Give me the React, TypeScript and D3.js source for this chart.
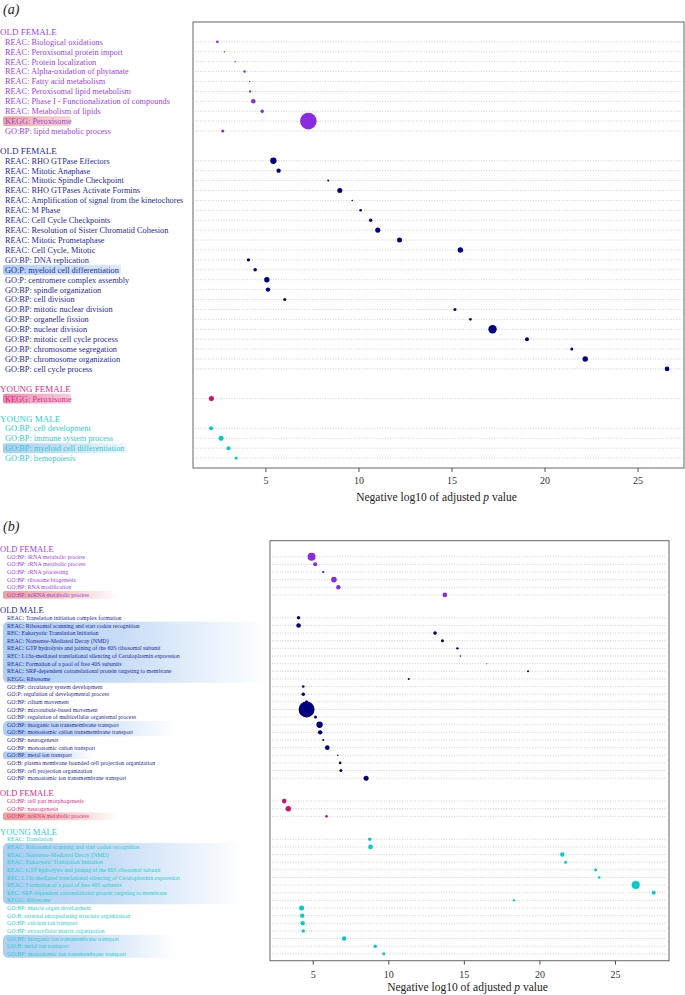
import React, { useEffect, useRef } from "react";
import * as d3 from "d3";

// ---- panel (a) ----
const aOldFemaleTerms = [
  "REAC: Biological oxidations",
  "REAC: Peroxisomal protein import",
  "REAC: Protein localization",
  "REAC: Alpha-oxidation of phytanate",
  "REAC: Fatty acid metabolism",
  "REAC: Peroxisomal lipid metabolism",
  "REAC: Phase I - Functionalization of compounds",
  "REAC: Metabolism of lipids",
  "KEGG: Peroxisome",
  "GO:BP: lipid metabolic process",
];
const aOldFemaleScore = [2.39, 2.77, 3.35, 3.85, 4.12, 4.15, 4.32, 4.8, 7.28, 2.68];
const aOldFemaleSize = [1.7, 0.6, 0.5, 1.4, 0.6, 1.4, 4.8, 2.9, 69, 2.3];

const aOldMaleTerms = [
  "REAC: RHO GTPase Effectors",
  "REAC: Mitotic Anaphase",
  "REAC: Mitotic Spindle Checkpoint",
  "REAC: RHO GTPases Activate Formins",
  "REAC: Amplification of signal from the kinetochores",
  "REAC: M Phase",
  "REAC: Cell Cycle Checkpoints",
  "REAC: Resolution of Sister Chromatid Cohesion",
  "REAC: Mitotic Prometaphase",
  "REAC: Cell Cycle, Mitotic",
  "GO:BP: DNA replication",
  "GO:P: myeloid cell differentiation",
  "GO:P: centromere complex assembly",
  "GO:BP: spindle organization",
  "GO:BP: cell division",
  "GO:BP: mitotic nuclear division",
  "GO:BP: organelle fission",
  "GO:BP: nuclear division",
  "GO:BP: mitotic cell cycle process",
  "GO:BP: chromosome segregation",
  "GO:BP: chromosome organization",
  "GO:BP: cell cycle process",
];
const aOldMaleScore = [
  5.4, 5.68, 8.35, 8.97, 9.64, 10.09, 10.63, 11.01, 12.18, 15.45, 4.06, 4.42,
  5.05, 5.11, 6.01, 15.16, 15.99, 17.18, 19.03, 21.44, 22.16, 26.56,
];
const aOldMaleSize = [
  10, 4.8, 1, 6.3, 0.6, 1.7, 2.9, 6.3, 6.3, 7.3, 2.9, 3.2, 7.3, 4.8, 2.3, 2.3,
  1.7, 17.6, 4, 2.3, 7.3, 5.3,
];

const aYoungFemaleTerms = ["KEGG: Peroxisome"];
const aYoungFemaleScore = [2.07];
const aYoungFemaleSize = [6.3];

const aYoungMaleTerms = [
  "GO:BP: cell development",
  "GO:BP: immune system process",
  "GO:BP: myeloid cell differentiation",
  "GO:BP: hemopoiesis",
];
const aYoungMaleScore = [2.05, 2.59, 2.99, 3.4];
const aYoungMaleSize = [4, 6.3, 4, 2.3];

// ---- panel (b) ----
const bOldFemaleTerms = [
  "GO:BP: tRNA metabolic process",
  "GO:BP: rRNA metabolic process",
  "GO:BP: rRNA processing",
  "GO:BP: ribosome biogenesis",
  "GO:BP: RNA modification",
  "GO:BP: ncRNA metabolic process",
];
const bOldFemaleScore = [4.89, 5.13, 5.66, 6.37, 6.66, 13.71];
const bOldFemaleSize = [16, 4, 1.4, 7.8, 4.8, 5.3];

const bOldMaleTerms = [
  "REAC: Translation initiation complex formation",
  "REAC: Ribosomal scanning and start codon recognition",
  "REC: Eukaryotic Translation Initiation",
  "REAC: Nonsense-Mediated Decay (NMD)",
  "REAC: GTP hydrolysis and joining of the 60S ribosomal subunit",
  "REC: L13a-mediated translational silencing of Ceruloplasmin expression",
  "REAC: Formation of a pool of free 40S subunits",
  "REAC: SRP-dependent cotranslational protein targeting to membrane",
  "KEGG: Ribosome",
  "GO:BP: circulatory system development",
  "GO:P: regulation of developmental process",
  "GO:BP: cilium movement",
  "GO:BP: microtubule-based movement",
  "GO:BP: regulation of multicellular organismal process",
  "GO:BP: inorganic ion transmembrane transport",
  "GO:BP: monoatomic cation transmembrane transport",
  "GO:BP: neurogenesis",
  "GO:BP: monoatomic cation transport",
  "GO:BP: metal ion transport",
  "GO:B: plasma membrane bounded cell projection organization",
  "GO:BP: cell projection organization",
  "GO:BP: monoatomic ion transmembrane transport",
];
const bOldMaleScore = [
  4.03, 4.03, 13.06, 13.55, 14.54, 14.74, 16.48, 19.21, 11.32, 4.34, 4.34, 4.56,
  4.56, 5.15, 5.42, 5.46, 5.66, 5.93, 6.63, 6.78, 6.83, 8.5,
];
const bOldMaleSize = [
  3.2, 5.3, 3.2, 2.3, 1.4, 0.5, 0.25, 1, 1, 1.7, 3.2, 2.3, 64, 2.3, 10, 4.8, 1,
  5.3, 0.5, 1.7, 2.3, 6.3,
];

const bOldFemale2Terms = [
  "GO:BP: cell part morphogenesis",
  "GO:BP: neurogenesis",
  "GO:BP: ncRNA metabolic process",
];
const bOldFemale2Score = [3.08, 3.35, 5.88];
const bOldFemale2Size = [5.3, 7.3, 1.7];

const bYoungMaleTerms = [
  "REAC: Translation",
  "REAC: Ribosomal scanning and start codon recognition",
  "REAC: Nonsense-Mediated Decay (NMD)",
  "REAC: Eukaryotic Translation Initiation",
  "REAC: GTP hydrolysis and joining of the 60S ribosomal subunit",
  "REC: L13a-mediated translational silencing of Ceruloplasmin expression",
  "REAC: Formation of a pool of free 40S subunits",
  "REC: SRP-dependent cotranslational protein targeting to membrane",
  "KEGG: Ribosome",
  "GO:BP: muscle organ development",
  "GO:B: external encapsulating structure organization",
  "GO:BP: calcium ion transport",
  "GO:BP: extracellular matrix organization",
  "GO:BP: inorganic ion transmembrane transport",
  "GO:B: metal ion transport",
  "GO:BP: monoatomic ion transmembrane transport",
];
const bYoungMaleScore = [
  8.74, 8.79, 21.48, 21.7, 23.68, 23.92, 26.34, 27.53, 18.28, 4.23, 4.27, 4.3,
  4.34, 7.05, 9.1, 9.67,
];
const bYoungMaleSize = [2.9, 5.3, 4.8, 2.3, 2.3, 1.7, 16, 4, 1.4, 6.3, 4.8, 4.8, 2.9, 5.3, 3.2, 2.3];

const xTicks = [5, 10, 15, 20, 25];

const colors: Record<string, { text: string; dot: string }> = {
  purple: { text: "#9d3fe6", dot: "#8a2be2" },
  navy: { text: "#1f1f9e", dot: "#000080" },
  magenta: { text: "#de2a85", dot: "#d1106c" },
  cyan: { text: "#1fcfcf", dot: "#00cccc" },
};

const tones: Record<string, string> = {
  pink: "#ec9c94",
  rose: "#e780a6",
  blue: "#a9cbf2",
};

type Group = { header: string; color: string; terms: string[]; score: number[]; size: number[] };
type Mark = { g: number; from: number; to: number; w: number; tone: string; fade: number };

const panelA = {
  id: "a",
  tag: "(a)",
  tagY: 14,
  groups: [
    { header: "OLD FEMALE", color: "purple", terms: aOldFemaleTerms, score: aOldFemaleScore, size: aOldFemaleSize },
    { header: "OLD FEMALE", color: "navy", terms: aOldMaleTerms, score: aOldMaleScore, size: aOldMaleSize },
    { header: "YOUNG FEMALE", color: "magenta", terms: aYoungFemaleTerms, score: aYoungFemaleScore, size: aYoungFemaleSize },
    { header: "YOUNG MALE", color: "cyan", terms: aYoungMaleTerms, score: aYoungMaleScore, size: aYoungMaleSize },
  ] as Group[],
  marks: [
    { g: 0, from: 8, to: 8, w: 68, tone: "pink", fade: 0.4 },
    { g: 1, from: 11, to: 11, w: 118, tone: "blue", fade: 0.4 },
    { g: 2, from: 0, to: 0, w: 68, tone: "rose", fade: 0.4 },
    { g: 3, from: 2, to: 2, w: 124, tone: "blue", fade: 0.15 },
  ] as Mark[],
  xDomain: [1.08, 27.47],
  xRange: [193, 684],
  slotDomain: [-1, 44],
  yRange: [22, 468],
  labelSize: 8.3,
  headerSize: 9,
  itemX: 5,
  tickLabelY: 484,
  titleY: 501,
};

const panelB = {
  id: "b",
  tag: "(b)",
  tagY: 531,
  groups: [
    { header: "OLD FEMALE", color: "purple", terms: bOldFemaleTerms, score: bOldFemaleScore, size: bOldFemaleSize },
    { header: "OLD MALE", color: "navy", terms: bOldMaleTerms, score: bOldMaleScore, size: bOldMaleSize },
    { header: "OLD FEMALE", color: "magenta", terms: bOldFemale2Terms, score: bOldFemale2Score, size: bOldFemale2Size },
    { header: "YOUNG MALE", color: "cyan", terms: bYoungMaleTerms, score: bYoungMaleScore, size: bYoungMaleSize },
  ] as Group[],
  marks: [
    { g: 0, from: 5, to: 5, w: 116, tone: "pink", fade: 0 },
    { g: 1, from: 1, to: 8, w: 264, tone: "blue", fade: 0 },
    { g: 1, from: 14, to: 15, w: 174, tone: "blue", fade: 0 },
    { g: 1, from: 18, to: 18, w: 92, tone: "blue", fade: 0 },
    { g: 2, from: 2, to: 2, w: 116, tone: "pink", fade: 0 },
    { g: 3, from: 1, to: 8, w: 240, tone: "blue", fade: 0 },
    { g: 3, from: 13, to: 15, w: 174, tone: "blue", fade: 0 },
  ] as Mark[],
  xDomain: [2.14, 28.54],
  xRange: [270, 669],
  slotDomain: [-1.1, 53.9],
  yRange: [540.7, 960.7],
  labelSize: 5.9,
  headerSize: 8.5,
  itemX: 7,
  tickLabelY: 978,
  titleY: 991,
};

const FONT = "'Liberation Serif', 'DejaVu Serif', serif";
const radius = d3.scaleSqrt().domain([0, 100]).range([0, 10]);

function drawPanel(svg: any, p: typeof panelA) {
  const x = d3.scaleLinear().domain(p.xDomain).range(p.xRange);
  const y = d3.scaleLinear().domain(p.slotDomain).range(p.yRange);
  const defs = svg.append("defs");

  // assign slots: header + items, one blank slot between groups
  let slot = 0;
  const rows: any[] = [];
  const headers: any[] = [];
  p.groups.forEach((g, gi) => {
    if (gi > 0) slot += 1;
    headers.push({ text: g.header, color: g.color, slot });
    slot += 1;
    g.terms.forEach((t, i) => {
      rows.push({ g: gi, i, term: t, score: g.score[i], size: g.size[i], color: g.color, slot });
      slot += 1;
    });
  });
  const rowSlot = (g: number, i: number) => rows.find((r) => r.g === g && r.i === i).slot;

  // label highlights
  p.marks.forEach((m, k) => {
    const gid = `hl-${p.id}-${k}`;
    const grad = defs.append("linearGradient").attr("id", gid).attr("x1", 0).attr("x2", 1);
    grad.append("stop").attr("offset", 0).attr("stop-color", tones[m.tone]).attr("stop-opacity", 0.95);
    grad.append("stop").attr("offset", 0.45).attr("stop-color", tones[m.tone]).attr("stop-opacity", 0.65);
    grad.append("stop").attr("offset", 1).attr("stop-color", tones[m.tone]).attr("stop-opacity", m.fade);
    const y0 = y(rowSlot(m.g, m.from) - 0.5);
    const y1 = y(rowSlot(m.g, m.to) + 0.5);
    svg
      .append("rect")
      .attr("x", 3)
      .attr("y", y0)
      .attr("width", m.w)
      .attr("height", y1 - y0)
      .attr("rx", m.to > m.from ? 5 : 2)
      .attr("fill", `url(#${gid})`);
  });

  svg
    .append("text")
    .attr("x", 3)
    .attr("y", p.tagY)
    .attr("font-family", FONT)
    .attr("font-style", "italic")
    .attr("font-size", 14)
    .attr("fill", "#222")
    .text(p.tag);

  svg
    .selectAll(`text.hdr-${p.id}`)
    .data(headers)
    .enter()
    .append("text")
    .attr("class", `hdr-${p.id}`)
    .attr("x", 0)
    .attr("y", (d: any) => y(d.slot))
    .attr("dy", "0.35em")
    .attr("font-family", FONT)
    .attr("font-size", p.headerSize)
    .attr("fill", (d: any) => colors[d.color].text)
    .text((d: any) => d.text);

  svg
    .selectAll(`text.lbl-${p.id}`)
    .data(rows)
    .enter()
    .append("text")
    .attr("class", `lbl-${p.id}`)
    .attr("x", p.itemX)
    .attr("y", (d: any) => y(d.slot))
    .attr("dy", "0.35em")
    .attr("font-family", FONT)
    .attr("font-size", p.labelSize)
    .attr("fill", (d: any) => colors[d.color].text)
    .text((d: any) => d.term);

  // dotted guide lines
  svg
    .selectAll(`line.grid-${p.id}`)
    .data(rows)
    .enter()
    .append("line")
    .attr("x1", p.xRange[0] + 2)
    .attr("x2", p.xRange[1] - 2)
    .attr("y1", (d: any) => y(d.slot))
    .attr("y2", (d: any) => y(d.slot))
    .attr("stroke", "#c4c4c4")
    .attr("stroke-width", 0.8)
    .attr("stroke-dasharray", "1,1.6");

  svg
    .selectAll(`circle.dot-${p.id}`)
    .data(rows)
    .enter()
    .append("circle")
    .attr("cx", (d: any) => x(d.score))
    .attr("cy", (d: any) => y(d.slot))
    .attr("r", (d: any) => radius(d.size))
    .attr("fill", (d: any) => colors[d.color].dot);

  // frame
  svg
    .append("rect")
    .attr("x", p.xRange[0])
    .attr("y", p.yRange[0])
    .attr("width", p.xRange[1] - p.xRange[0])
    .attr("height", p.yRange[1] - p.yRange[0])
    .attr("fill", "none")
    .attr("stroke", "#666")
    .attr("stroke-width", 1);

  const axis = svg.append("g");
  axis
    .selectAll("line")
    .data(xTicks)
    .enter()
    .append("line")
    .attr("x1", (d: number) => x(d))
    .attr("x2", (d: number) => x(d))
    .attr("y1", p.yRange[1])
    .attr("y2", p.yRange[1] + 4)
    .attr("stroke", "#555");
  axis
    .selectAll("text")
    .data(xTicks)
    .enter()
    .append("text")
    .attr("x", (d: number) => x(d))
    .attr("y", p.tickLabelY)
    .attr("text-anchor", "middle")
    .attr("font-family", FONT)
    .attr("font-size", 10)
    .attr("fill", "#333")
    .text((d: number) => d);

  const title = svg
    .append("text")
    .attr("x", (p.xRange[0] + p.xRange[1]) / 2 - 2)
    .attr("y", p.titleY)
    .attr("text-anchor", "middle")
    .attr("font-family", FONT)
    .attr("font-size", 11.5)
    .attr("fill", "#222");
  title.append("tspan").text("Negative log10 of adjusted ");
  title.append("tspan").attr("font-style", "italic").text("p");
  title.append("tspan").text(" value");
}

export default function App() {
  const svgRef = useRef(null);

  useEffect(() => {
    const svg = d3.select(svgRef.current);
    svg.selectAll("*").remove();
    svg.append("rect").attr("width", 685).attr("height", 995).attr("fill", "#fff");
    drawPanel(svg, panelA);
    drawPanel(svg, panelB);
  }, []);

  return (
    <svg
      ref={svgRef}
      width={685}
      height={995}
      style={{ position: "absolute", left: 0, top: 0 }}
    />
  );
}
